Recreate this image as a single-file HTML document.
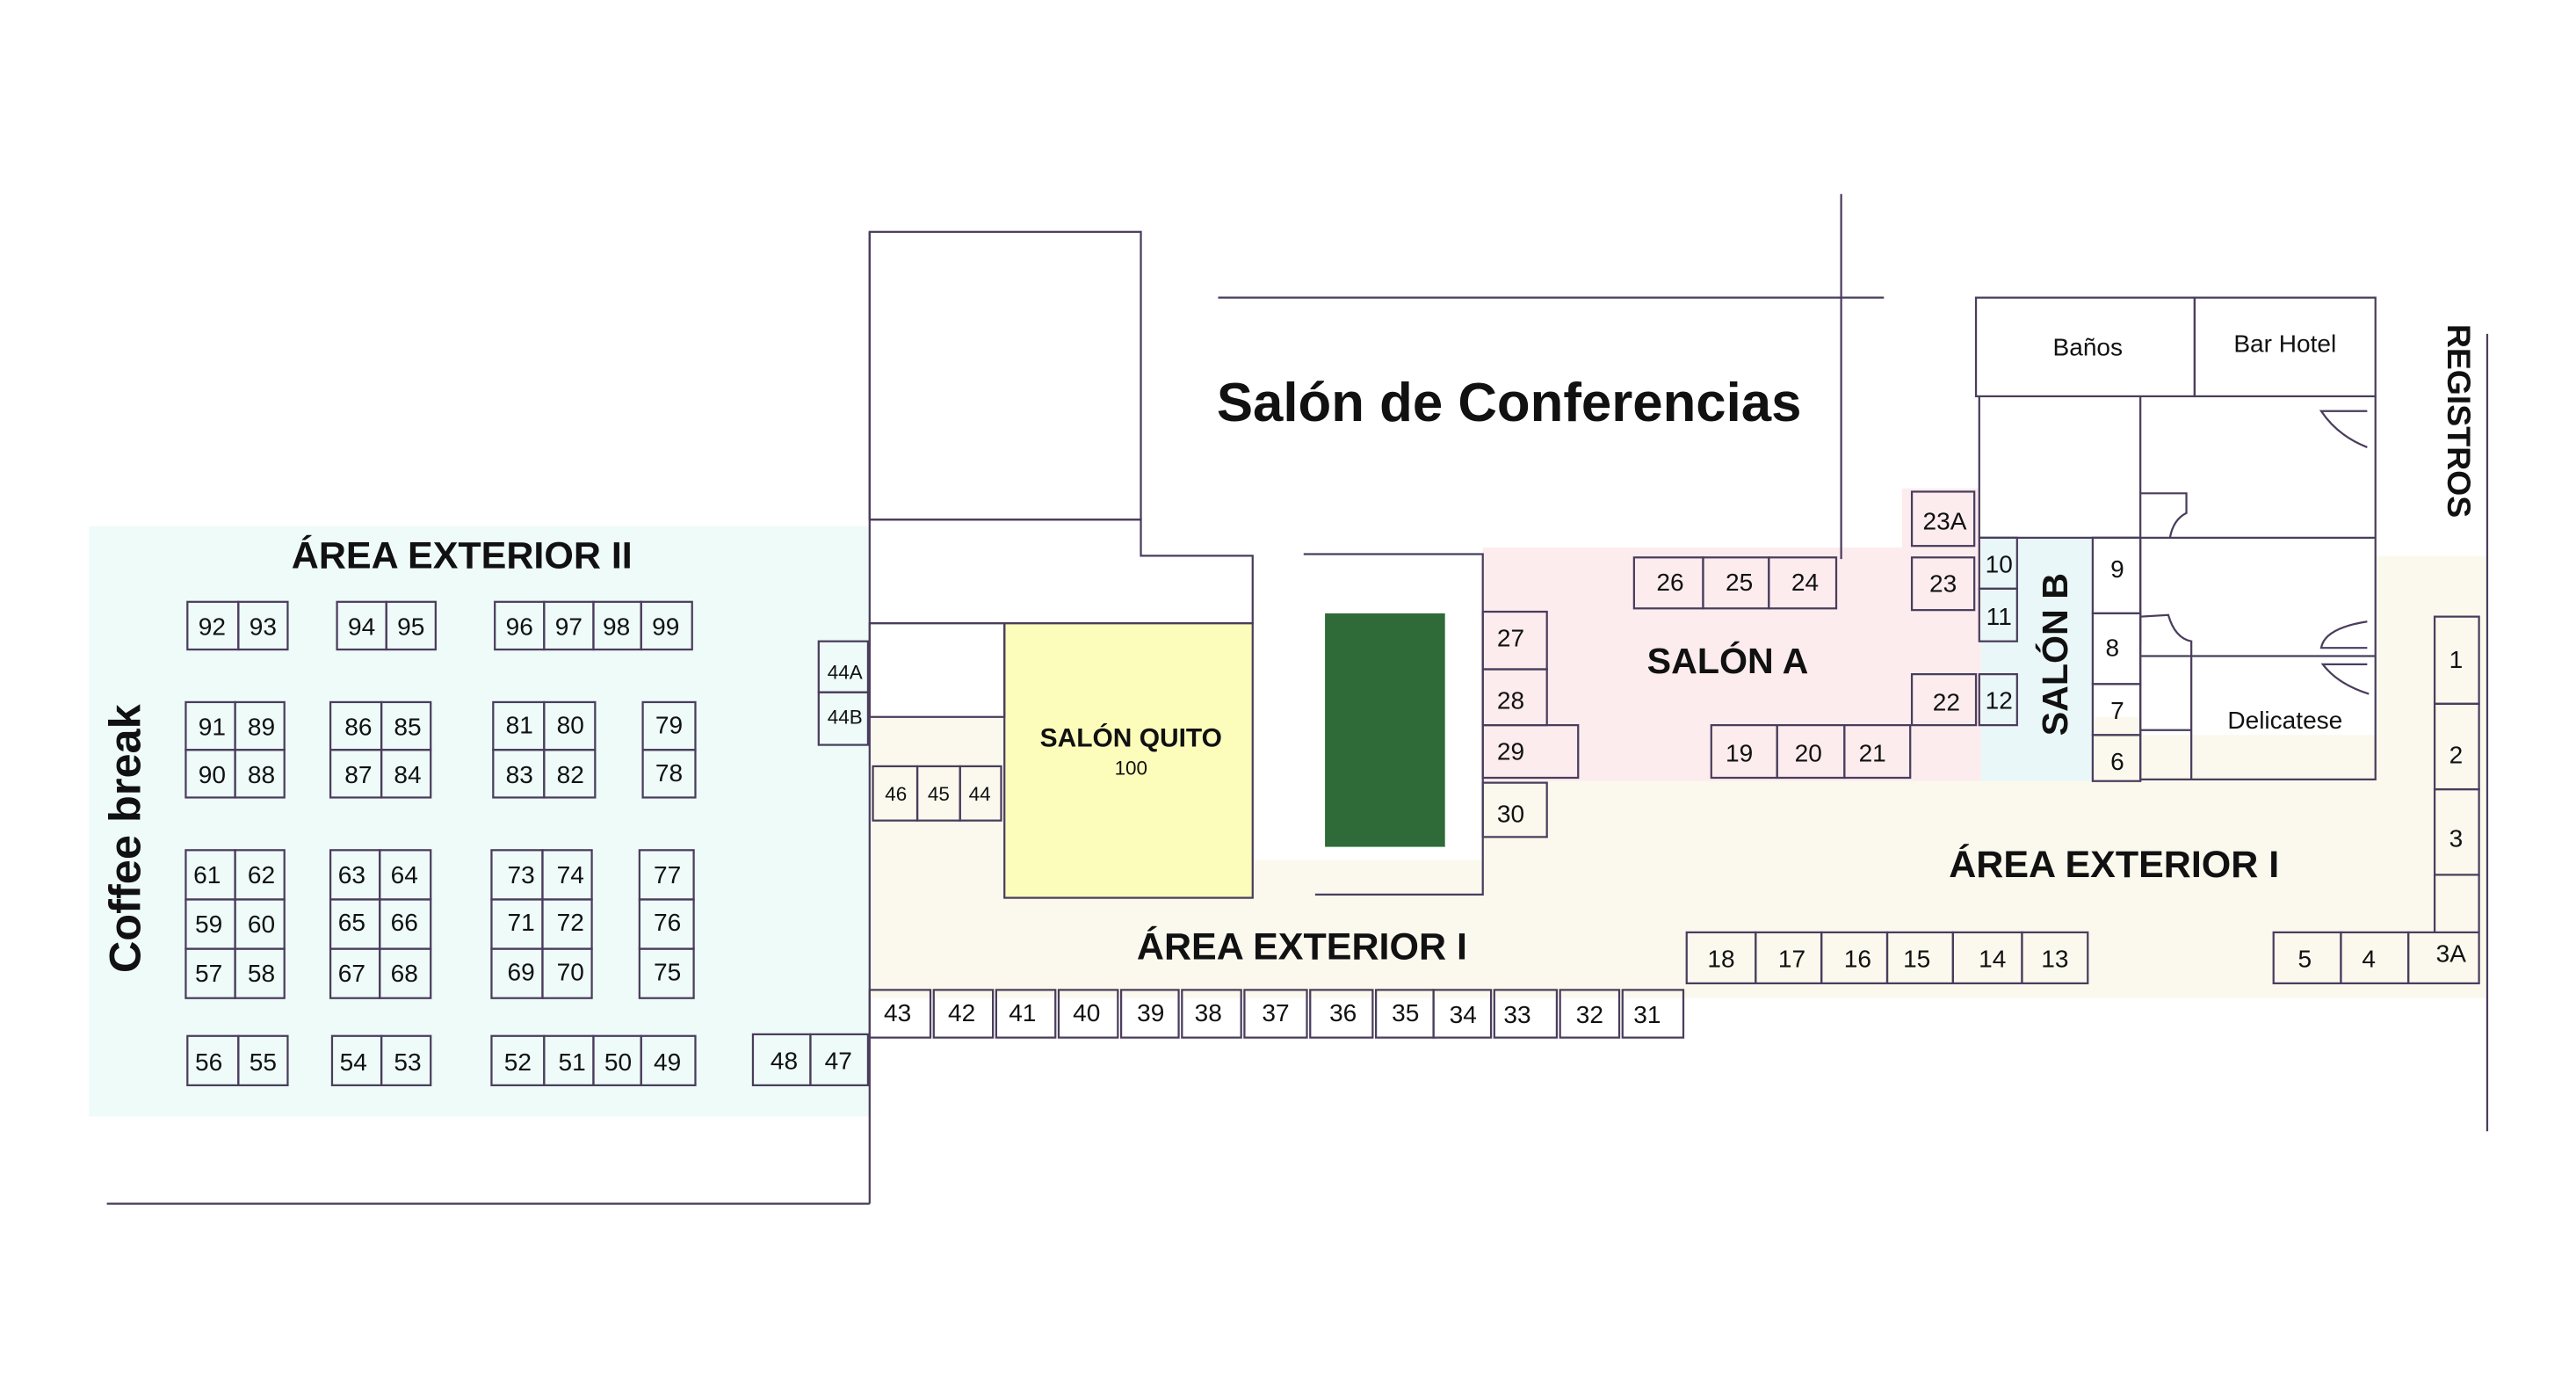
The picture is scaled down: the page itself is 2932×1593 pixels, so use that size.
<!DOCTYPE html>
<html><head><meta charset="utf-8"><style>html,body{margin:0;padding:0;background:#fff}svg{display:block}
text{font-family:"Liberation Sans",sans-serif;fill:#111}
.n{font-size:15px;text-anchor:middle;dominant-baseline:central}
.s{font-size:12px;text-anchor:middle;dominant-baseline:central}
.h{font-weight:bold;text-anchor:middle;dominant-baseline:central}
rect.b{fill:none;stroke:#4a3d5c;stroke-width:1.2}
line,path.l{stroke:#4a3d5c;stroke-width:1.2;fill:none}
</style></head><body>
<svg width="2932" height="1593" viewBox="0 0 1567 851.4" preserveAspectRatio="none" xmlns="http://www.w3.org/2000/svg">
<rect x="54" y="320" width="475" height="359" fill="#eefbf9"/>
<rect x="529" y="436" width="983" height="171" fill="#fbf9ee"/>
<rect x="1445" y="338" width="67" height="110" fill="#fbf9ee"/>
<rect x="902" y="333" width="303" height="142" fill="#fdecee"/>
<rect x="1157" y="297" width="48" height="40" fill="#fdecee"/>
<rect x="1205" y="327" width="68" height="148" fill="#eaf7f8"/>
<rect x="529" y="379" width="82" height="57" fill="#fff"/>
<rect x="762" y="337" width="140" height="186" fill="#fff"/>
<rect x="1302" y="327" width="143" height="120" fill="#fff"/>
<rect x="1204" y="241" width="241" height="86" fill="#fff"/>
<rect x="611" y="379" width="151" height="167" fill="#fdfdbb" stroke="#4a3d5c" stroke-width="1.2"/>
<rect x="806" y="373" width="73" height="142" fill="#2e6b38"/>
<line x1="65" y1="732" x2="529" y2="732"/>
<line x1="529" y1="141" x2="529" y2="732"/>
<rect class="b" x="529" y="141" width="165" height="175"/>
<path class="l" d="M529 316 H694 V338 H762 V379 H529"/>
<rect class="b" x="529" y="379" width="82" height="57"/>
<path class="l" d="M793 337 H902 V544 H800"/>
<line x1="741" y1="181" x2="1146" y2="181"/>
<line x1="1120" y1="118" x2="1120" y2="340"/>
<line x1="1513" y1="203" x2="1513" y2="688"/>
<rect class="b" x="1202" y="181" width="133" height="60"/>
<rect class="b" x="1335" y="181" width="110" height="60"/>
<path class="l" d="M1204 241 V327 M1302 241 V475 M1445 241 V474 H1333 M1204 327 H1445 M1302 399 H1445 M1333 399 V474 M1302 444 H1333 M1302 474 H1333"/>
<path class="l" d="M1302 300 H1330 V312 Q1322 316 1320 327 M1302 392 V375 L1319 374 Q1323 388 1333 390 V399 M1440 250 H1412 Q1422 265 1440 272 M1440 394 H1412 Q1414 382 1440 378 M1440 404 H1413 Q1422 416 1441 422"/>
<text class="h" x="918" y="245" font-size="33">Salón de Conferencias</text>
<text class="h" x="281" y="338" font-size="23">ÁREA EXTERIOR II</text>
<text class="h" x="792" y="576" font-size="23">ÁREA EXTERIOR I</text>
<text class="h" x="1286" y="526" font-size="23">ÁREA EXTERIOR I</text>
<text class="h" x="1051" y="402" font-size="22">SALÓN A</text>
<text class="h" x="688" y="449" font-size="16">SALÓN QUITO</text>
<text class="s" x="688" y="467">100</text>
<text class="h" x="0" y="0" font-size="22" transform="translate(1250,398) rotate(-90)">SALÓN B</text>
<text class="h" x="0" y="0" font-size="20" transform="translate(1496,256) rotate(90)">REGISTROS</text>
<text class="h" x="0" y="0" font-size="27" transform="translate(76,510) rotate(-90)">Coffee break</text>
<text class="n" x="1270" y="211" font-size="18">Baños</text>
<text class="n" x="1390" y="209" font-size="18">Bar Hotel</text>
<text class="n" x="1390" y="438" font-size="18">Delicatese</text>
<g>
<rect class="b" x="114" y="366" width="31" height="29"/><text class="n" x="129" y="381">92</text>
<rect class="b" x="145" y="366" width="30" height="29"/><text class="n" x="160" y="381">93</text>
<rect class="b" x="205" y="366" width="30" height="29"/><text class="n" x="220" y="381">94</text>
<rect class="b" x="235" y="366" width="30" height="29"/><text class="n" x="250" y="381">95</text>
<rect class="b" x="301" y="366" width="30" height="29"/><text class="n" x="316" y="381">96</text>
<rect class="b" x="331" y="366" width="30" height="29"/><text class="n" x="346" y="381">97</text>
<rect class="b" x="361" y="366" width="29" height="29"/><text class="n" x="375" y="381">98</text>
<rect class="b" x="390" y="366" width="31" height="29"/><text class="n" x="405" y="381">99</text>
<rect class="b" x="113" y="427" width="30" height="29"/><text class="n" x="129" y="442">91</text>
<rect class="b" x="143" y="427" width="30" height="29"/><text class="n" x="159" y="442">89</text>
<rect class="b" x="113" y="456" width="30" height="29"/><text class="n" x="129" y="471">90</text>
<rect class="b" x="143" y="456" width="30" height="29"/><text class="n" x="159" y="471">88</text>
<rect class="b" x="201" y="427" width="31" height="29"/><text class="n" x="218" y="442">86</text>
<rect class="b" x="232" y="427" width="30" height="29"/><text class="n" x="248" y="442">85</text>
<rect class="b" x="201" y="456" width="31" height="29"/><text class="n" x="218" y="471">87</text>
<rect class="b" x="232" y="456" width="30" height="29"/><text class="n" x="248" y="471">84</text>
<rect class="b" x="300" y="427" width="31" height="29"/><text class="n" x="316" y="441">81</text>
<rect class="b" x="331" y="427" width="31" height="29"/><text class="n" x="347" y="441">80</text>
<rect class="b" x="300" y="456" width="31" height="29"/><text class="n" x="316" y="471">83</text>
<rect class="b" x="331" y="456" width="31" height="29"/><text class="n" x="347" y="471">82</text>
<rect class="b" x="391" y="427" width="32" height="29"/><text class="n" x="407" y="441">79</text>
<rect class="b" x="391" y="456" width="32" height="29"/><text class="n" x="407" y="470">78</text>
<rect class="b" x="113" y="517" width="30" height="30"/><text class="n" x="126" y="532">61</text>
<rect class="b" x="143" y="517" width="30" height="30"/><text class="n" x="159" y="532">62</text>
<rect class="b" x="113" y="547" width="30" height="30"/><text class="n" x="127" y="562">59</text>
<rect class="b" x="143" y="547" width="30" height="30"/><text class="n" x="159" y="562">60</text>
<rect class="b" x="113" y="577" width="30" height="30"/><text class="n" x="127" y="592">57</text>
<rect class="b" x="143" y="577" width="30" height="30"/><text class="n" x="159" y="592">58</text>
<rect class="b" x="201" y="517" width="30" height="30"/><text class="n" x="214" y="532">63</text>
<rect class="b" x="231" y="517" width="31" height="30"/><text class="n" x="246" y="532">64</text>
<rect class="b" x="201" y="547" width="30" height="30"/><text class="n" x="214" y="561">65</text>
<rect class="b" x="231" y="547" width="31" height="30"/><text class="n" x="246" y="561">66</text>
<rect class="b" x="201" y="577" width="30" height="30"/><text class="n" x="214" y="592">67</text>
<rect class="b" x="231" y="577" width="31" height="30"/><text class="n" x="246" y="592">68</text>
<rect class="b" x="299" y="517" width="31" height="30"/><text class="n" x="317" y="532">73</text>
<rect class="b" x="330" y="517" width="30" height="30"/><text class="n" x="347" y="532">74</text>
<rect class="b" x="299" y="547" width="31" height="30"/><text class="n" x="317" y="561">71</text>
<rect class="b" x="330" y="547" width="30" height="30"/><text class="n" x="347" y="561">72</text>
<rect class="b" x="299" y="577" width="31" height="30"/><text class="n" x="317" y="591">69</text>
<rect class="b" x="330" y="577" width="30" height="30"/><text class="n" x="347" y="591">70</text>
<rect class="b" x="389" y="517" width="33" height="30"/><text class="n" x="406" y="532">77</text>
<rect class="b" x="389" y="547" width="33" height="30"/><text class="n" x="406" y="561">76</text>
<rect class="b" x="389" y="577" width="33" height="30"/><text class="n" x="406" y="591">75</text>
<rect class="b" x="114" y="630" width="31" height="30"/><text class="n" x="127" y="646">56</text>
<rect class="b" x="145" y="630" width="30" height="30"/><text class="n" x="160" y="646">55</text>
<rect class="b" x="202" y="630" width="30" height="30"/><text class="n" x="215" y="646">54</text>
<rect class="b" x="232" y="630" width="30" height="30"/><text class="n" x="248" y="646">53</text>
<rect class="b" x="299" y="630" width="32" height="30"/><text class="n" x="315" y="646">52</text>
<rect class="b" x="331" y="630" width="30" height="30"/><text class="n" x="348" y="646">51</text>
<rect class="b" x="361" y="630" width="29" height="30"/><text class="n" x="376" y="646">50</text>
<rect class="b" x="390" y="630" width="33" height="30"/><text class="n" x="406" y="646">49</text>
<rect class="b" x="458" y="629" width="35" height="31"/><text class="n" x="477" y="645" font-size="18">48</text>
<rect class="b" x="493" y="629" width="35" height="31"/><text class="n" x="510" y="645" font-size="18">47</text>
<rect class="b" x="498" y="390" width="30" height="31"/><text class="s" x="514" y="409">44A</text>
<rect class="b" x="498" y="421" width="30" height="32"/><text class="s" x="514" y="436">44B</text>
<rect class="b" x="531" y="466" width="27" height="33"/><text class="s" x="545" y="483">46</text>
<rect class="b" x="558" y="466" width="26" height="33"/><text class="s" x="571" y="483">45</text>
<rect class="b" x="584" y="466" width="25" height="33"/><text class="s" x="596" y="483">44</text>
</g>
<g>
<rect class="b" x="529" y="602" width="37" height="29"/><text class="n" x="546" y="616" font-size="17">43</text>
<rect class="b" x="568" y="602" width="36" height="29"/><text class="n" x="585" y="616" font-size="17">42</text>
<rect class="b" x="606" y="602" width="36" height="29"/><text class="n" x="622" y="616" font-size="17">41</text>
<rect class="b" x="644" y="602" width="36" height="29"/><text class="n" x="661" y="616" font-size="17">40</text>
<rect class="b" x="682" y="602" width="35" height="29"/><text class="n" x="700" y="616" font-size="17">39</text>
<rect class="b" x="719" y="602" width="36" height="29"/><text class="n" x="735" y="616" font-size="17">38</text>
<rect class="b" x="757" y="602" width="38" height="29"/><text class="n" x="776" y="616" font-size="17">37</text>
<rect class="b" x="797" y="602" width="38" height="29"/><text class="n" x="817" y="616" font-size="17">36</text>
<rect class="b" x="837" y="602" width="35" height="29"/><text class="n" x="855" y="616" font-size="17">35</text>
<rect class="b" x="872" y="602" width="35" height="29"/><text class="n" x="890" y="617" font-size="17">34</text>
<rect class="b" x="909" y="602" width="38" height="29"/><text class="n" x="923" y="617" font-size="17">33</text>
<rect class="b" x="949" y="602" width="36" height="29"/><text class="n" x="967" y="617" font-size="17">32</text>
<rect class="b" x="987" y="602" width="37" height="29"/><text class="n" x="1002" y="617" font-size="17">31</text>
<rect class="b" x="1026" y="567" width="42" height="31"/><text class="n" x="1047" y="583" font-size="17">18</text>
<rect class="b" x="1068" y="567" width="40" height="31"/><text class="n" x="1090" y="583" font-size="17">17</text>
<rect class="b" x="1108" y="567" width="40" height="31"/><text class="n" x="1130" y="583" font-size="17">16</text>
<rect class="b" x="1148" y="567" width="40" height="31"/><text class="n" x="1166" y="583" font-size="17">15</text>
<rect class="b" x="1188" y="567" width="42" height="31"/><text class="n" x="1212" y="583" font-size="17">14</text>
<rect class="b" x="1230" y="567" width="40" height="31"/><text class="n" x="1250" y="583" font-size="17">13</text>
<rect class="b" x="1383" y="567" width="41" height="31"/><text class="n" x="1402" y="583" font-size="17">5</text>
<rect class="b" x="1424" y="567" width="41" height="31"/><text class="n" x="1441" y="583" font-size="17">4</text>
<rect class="b" x="1465" y="567" width="43" height="31"/><text class="n" x="1491" y="580" font-size="17">3A</text>
<path class="l" d="M1481 532 V567 M1508 532 V567"/>
<rect class="b" x="1481" y="375" width="27" height="53"/><text class="n" x="1494" y="401" font-size="17">1</text>
<rect class="b" x="1481" y="428" width="27" height="52"/><text class="n" x="1494" y="459" font-size="17">2</text>
<rect class="b" x="1481" y="480" width="27" height="52"/><text class="n" x="1494" y="510" font-size="17">3</text>
<rect class="b" x="902" y="372" width="39" height="35"/><text class="n" x="919" y="388" font-size="17">27</text>
<rect class="b" x="902" y="407" width="39" height="34"/><text class="n" x="919" y="426" font-size="17">28</text>
<rect class="b" x="902" y="441" width="58" height="32" fill="#fbeae8"/><text class="n" x="919" y="457" font-size="17">29</text>
<rect class="b" x="902" y="476" width="39" height="33"/><text class="n" x="919" y="495" font-size="17">30</text>
<rect class="b" x="994" y="339" width="42" height="31"/><text class="n" x="1016" y="354" font-size="17">26</text>
<rect class="b" x="1036" y="339" width="40" height="31"/><text class="n" x="1058" y="354" font-size="17">25</text>
<rect class="b" x="1076" y="339" width="41" height="31"/><text class="n" x="1098" y="354" font-size="17">24</text>
<rect class="b" x="1041" y="441" width="40" height="32"/><text class="n" x="1058" y="458" font-size="17">19</text>
<rect class="b" x="1081" y="441" width="41" height="32"/><text class="n" x="1100" y="458" font-size="17">20</text>
<rect class="b" x="1122" y="441" width="40" height="32"/><text class="n" x="1139" y="458" font-size="17">21</text>
<rect class="b" x="1163" y="299" width="38" height="33"/><text class="n" x="1183" y="317" font-size="17">23A</text>
<rect class="b" x="1163" y="339" width="38" height="32"/><text class="n" x="1182" y="355" font-size="17">23</text>
<rect class="b" x="1163" y="410" width="39" height="31"/><text class="n" x="1184" y="427" font-size="17">22</text>
<rect class="b" x="1204" y="327" width="23" height="31"/><text class="n" x="1216" y="343" font-size="17">10</text>
<rect class="b" x="1204" y="358" width="23" height="32"/><text class="n" x="1216" y="375" font-size="17">11</text>
<rect class="b" x="1204" y="410" width="23" height="31"/><text class="n" x="1216" y="426" font-size="17">12</text>
<rect class="b" x="1273" y="327" width="29" height="46"/><text class="n" x="1288" y="346" font-size="17">9</text>
<rect class="b" x="1273" y="373" width="29" height="43"/><text class="n" x="1285" y="394" font-size="17">8</text>
<rect class="b" x="1273" y="416" width="29" height="31"/><text class="n" x="1288" y="432" font-size="17">7</text>
<rect class="b" x="1273" y="447" width="29" height="28"/><text class="n" x="1288" y="463" font-size="17">6</text>
</g>
</svg>
</body></html>
